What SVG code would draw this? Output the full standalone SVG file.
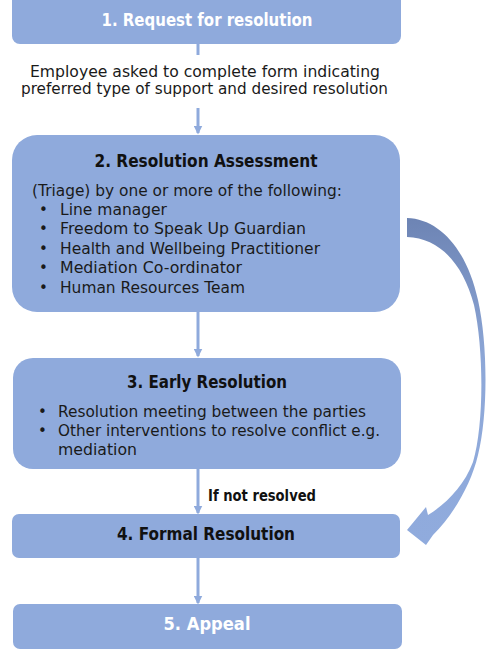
<svg xmlns="http://www.w3.org/2000/svg" width="486" height="652" viewBox="0 0 486 652">
<defs>
<style>
.box{fill:#8faadc;}
.t{font-family:"DejaVu Sans","Liberation Sans",sans-serif;}
.title{font-size:17px;font-weight:bold;text-anchor:middle;}
.w{fill:#ffffff;}
.k{fill:#111111;}
.body{font-size:15px;fill:#1a1a1a;}
.conn{stroke:#8faadc;stroke-width:3;fill:none;}
</style>
<marker id="ah" viewBox="0 0 6 6" refX="5" refY="3" markerWidth="3" markerHeight="3" orient="auto">
<path d="M0,0 L6,3 L0,6 Z" fill="#8faadc"/>
</marker>
<linearGradient id="cg" x1="0" y1="0" x2="0" y2="1">
<stop offset="0" stop-color="#6d84b4"/>
<stop offset="0.45" stop-color="#8ea8d8"/>
<stop offset="1" stop-color="#90abdd"/>
</linearGradient>
</defs>

<g id="connectors">
<line class="conn" x1="198" y1="44" x2="198" y2="55"/>
<line class="conn" x1="198" y1="108" x2="198" y2="133" marker-end="url(#ah)"/>
<line class="conn" x1="198" y1="312" x2="198" y2="356" marker-end="url(#ah)"/>
<line class="conn" x1="198" y1="469" x2="198" y2="513" marker-end="url(#ah)"/>
<line class="conn" x1="198" y1="558" x2="198" y2="603" marker-end="url(#ah)"/>
<path id="curved-arrow" fill="url(#cg)" d="M407,218 C440,219 467,250 478,300 C488,345 488,415 478,455 C471,485 453,515 433,535 L426,545 L407,530 L426,507 L428,515 C446,504 464,486 473,462 C484,425 484,350 474,305 C463,264 440,238 407,237 Z"/>
</g>

<g id="node1">
<rect class="box" x="12" y="-10" width="389" height="54" rx="8"/>
<text class="t title w" x="207" y="26" textLength="211" lengthAdjust="spacingAndGlyphs">1. Request for resolution</text>
</g>

<g id="label1">
<text class="t body" x="30" y="77" textLength="350" lengthAdjust="spacingAndGlyphs">Employee asked to complete form indicating</text>
<text class="t body" x="21" y="94" textLength="367" lengthAdjust="spacingAndGlyphs">preferred type of support and desired resolution</text>
</g>

<g id="node2">
<rect class="box" x="12" y="135" width="388" height="177" rx="25"/>
<text class="t title k" x="206" y="167" textLength="223" lengthAdjust="spacingAndGlyphs">2. Resolution Assessment</text>
<text class="t body" x="32" y="196" textLength="310" lengthAdjust="spacingAndGlyphs">(Triage) by one or more of the following:</text>
<g class="t body">
<text x="39" y="215">•</text><text x="60" y="215" textLength="107" lengthAdjust="spacingAndGlyphs">Line manager</text>
<text x="39" y="234">•</text><text x="60" y="234" textLength="246" lengthAdjust="spacingAndGlyphs">Freedom to Speak Up Guardian</text>
<text x="39" y="254">•</text><text x="60" y="254" textLength="260" lengthAdjust="spacingAndGlyphs">Health and Wellbeing Practitioner</text>
<text x="39" y="273">•</text><text x="60" y="273" textLength="182" lengthAdjust="spacingAndGlyphs">Mediation Co-ordinator</text>
<text x="39" y="293">•</text><text x="60" y="293" textLength="185" lengthAdjust="spacingAndGlyphs">Human Resources Team</text>
</g>
</g>

<g id="node3">
<rect class="box" x="13" y="358" width="388" height="111" rx="20"/>
<text class="t title k" x="207" y="388" textLength="160" lengthAdjust="spacingAndGlyphs">3. Early Resolution</text>
<g class="t body">
<text x="38" y="417">•</text><text x="58" y="417" textLength="308" lengthAdjust="spacingAndGlyphs">Resolution meeting between the parties</text>
<text x="38" y="436">•</text><text x="58" y="436" textLength="322" lengthAdjust="spacingAndGlyphs">Other interventions to resolve conflict e.g.</text>
<text x="58" y="455" textLength="79" lengthAdjust="spacingAndGlyphs">mediation</text>
</g>
</g>

<g id="label2">
<text class="t" x="208" y="501" font-size="15" font-weight="bold" fill="#111111" textLength="108" lengthAdjust="spacingAndGlyphs">If not resolved</text>
</g>

<g id="node4">
<rect class="box" x="12" y="514" width="388" height="44" rx="7"/>
<text class="t title k" x="206" y="540" textLength="178" lengthAdjust="spacingAndGlyphs">4. Formal Resolution</text>
</g>

<g id="node5">
<rect class="box" x="13" y="604" width="389" height="45" rx="7"/>
<text class="t title w" x="207" y="630" textLength="87" lengthAdjust="spacingAndGlyphs">5. Appeal</text>
</g>
</svg>
